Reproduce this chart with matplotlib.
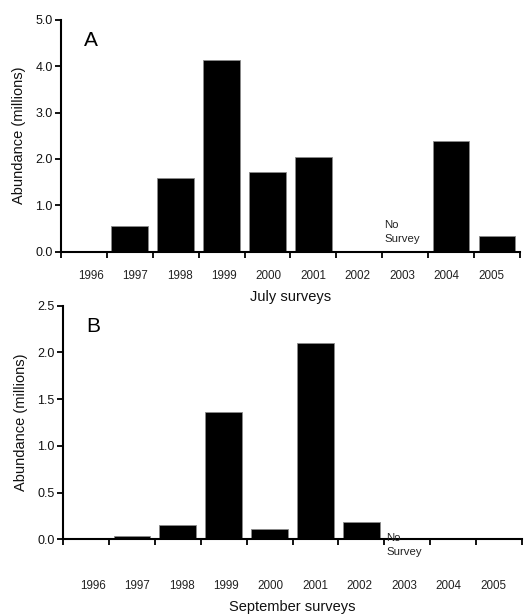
import numpy as np
import matplotlib
matplotlib.use("Agg")
import matplotlib.pyplot as plt

plt.rcParams['font.family'] = ['Liberation Sans', 'DejaVu Sans']

years = ["1996", "1997", "1998", "1999", "2000", "2001", "2002", "2003", "2004", "2005"]
july = [0.0, 0.545, 1.58, 4.14, 1.72, 2.05, 0.02, np.nan, 2.38, 0.34]
september = [0.0, 0.04, 0.15, 1.365, 0.11, 2.10, 0.19, np.nan, 0.0, 0.0]
no_survey_label = "No\nSurvey"
no_survey_year = "2003"

fig = plt.figure(figsize=(5.30, 6.15), dpi=100)
axA = fig.add_axes([0.1151, 0.5907, 0.866, 0.3772])
axB = fig.add_axes([0.1189, 0.1231, 0.866, 0.3800])

def draw(ax, vals, ymax, ystep, xlabel, letter, pad, ns_y):
    n = len(years)
    x = np.arange(n) + 0.5
    v = np.array(vals, dtype=float)
    ax.bar(x, np.nan_to_num(v), width=0.8, color='black', edgecolor='#8a8a8a',
           linewidth=0.6, zorder=2)
    ax.set_xlim(0, n)
    ax.set_ylim(0, ymax)
    yt = np.arange(0, ymax + 1e-9, ystep)
    ax.set_yticks(yt)
    ax.set_yticklabels([f"{t:.1f}" for t in yt], fontsize=9, color='#111111')
    ax.set_xticks(np.arange(n + 1))
    ax.set_xticklabels([])
    ax.set_xticks(0.654 + np.arange(n) * 0.968, minor=True)
    ax.set_xticklabels(years, minor=True, fontsize=8.4, color='#222222')
    ax.tick_params(axis='x', which='minor', length=0, pad=pad)
    ax.tick_params(axis='x', which='major', direction='out', length=4, width=1.3)
    ax.tick_params(axis='y', direction='out', length=4, width=1.3, pad=2)
    for s in ['top', 'right']:
        ax.spines[s].set_visible(False)
    for s in ['left', 'bottom']:
        ax.spines[s].set_linewidth(1.5)
    ax.set_ylabel("Abundance (millions)", fontsize=10.5, labelpad=7, color='#111111')
    ax.set_xlabel(xlabel, fontsize=10.5, labelpad=6, color='#111111')
    ax.text(0.05, 0.91, letter, transform=ax.transAxes, fontsize=15, va='center', ha='left')
    i = years.index(no_survey_year)
    ax.text(i + 0.05, ns_y, no_survey_label, fontsize=8.2, va='bottom', ha='left',
            linespacing=1.45, color='#222222')

draw(axA, july, 5.0, 1.0, "July surveys", "A", 13, 0.17)
draw(axB, september, 2.5, 0.5, "September surveys", "B", 29, -0.19)

fig.savefig("out.png", dpi=100)
